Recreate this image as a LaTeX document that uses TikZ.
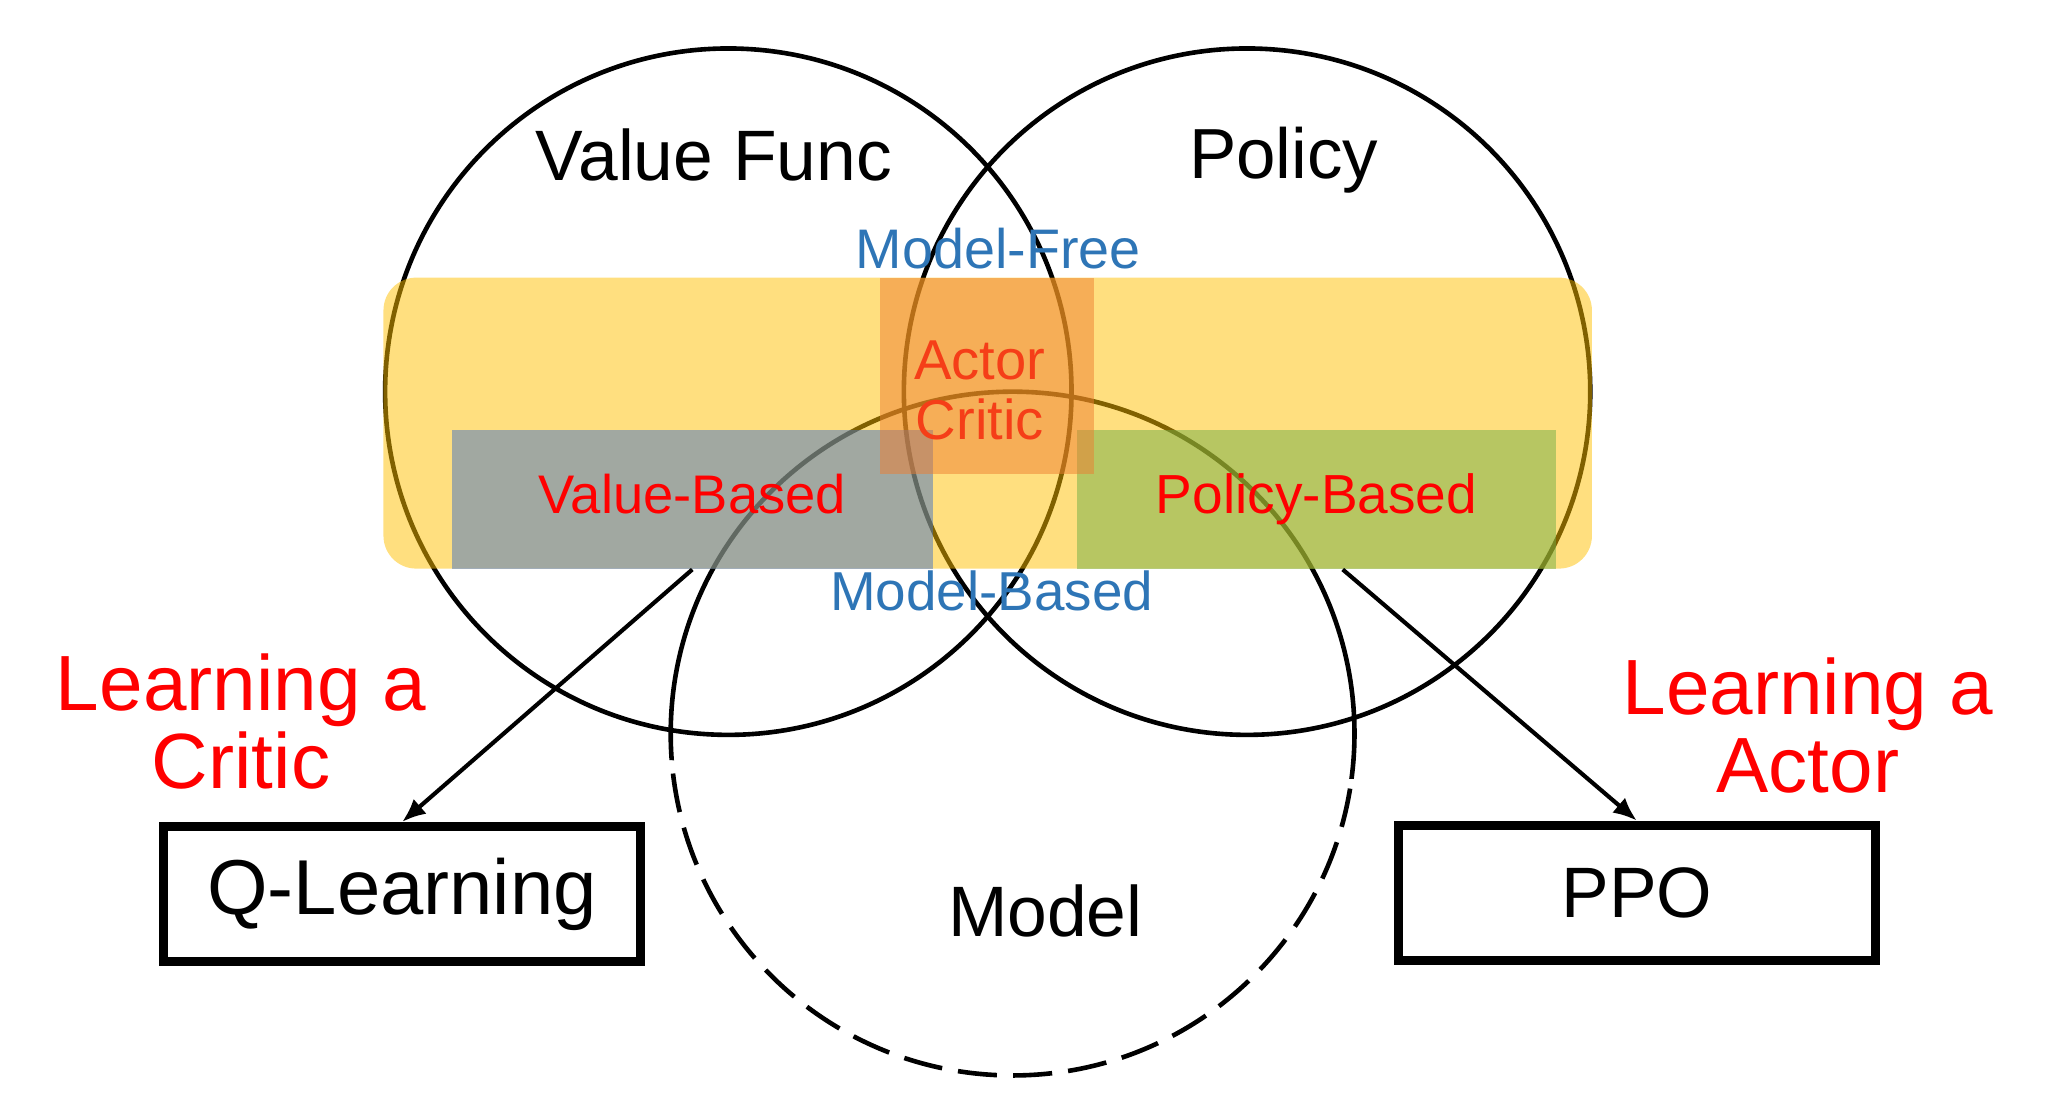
\documentclass[tikz,border=0pt]{standalone}
\usepackage{fontspec}
\setmainfont{Liberation Sans}
\usepackage{xcolor}
\usetikzlibrary{arrows.meta, positioning}
\definecolor{modelfree}{RGB}{255,192,0}
\definecolor{actorcritic}{RGB}{237,125,49}
\definecolor{valuebased}{RGB}{68,114,196}
\definecolor{policybased}{RGB}{112,173,71}
\definecolor{textebleu}{RGB}{46,117,182}
\definecolor{texterouge}{RGB}{255,0,0}

\begin{document}
\begin{tikzpicture}[x=0.01cm, y=-0.01cm,
    venn/.style={draw=black, line width=1pt},
    zone/.style={rectangle, inner sep=0pt, fill opacity=0.5, text opacity=1,
                 text depth=0.22em},
    algo/.style={rectangle, draw=black, line width=2pt, inner sep=0pt,
                 minimum width=3.64cm, minimum height=1.03cm},
    conn/.style={-{Latex[length=1.8mm, width=1.5mm]}, line width=0.9pt}]

    \useasboundingbox (0,0) rectangle (1568,852);

    % Cercles des ensembles
    \draw[venn] (556,299) circle[radius=262];
    \draw[venn] (952,299) circle[radius=262];
    % Cercle du modèle : haut plein, bas en tirets
    \begin{scope}
      \clip (500,290) -- (1045,290) -- (1045,595) -- (500,580) -- cycle;
      \draw[venn] (773,560) circle[radius=261];
    \end{scope}
    \begin{scope}
      \clip (500,580) -- (1045,595) -- (1045,830) -- (500,830) -- cycle;
      \draw[venn, dash pattern=on 8.5pt off 3.5pt] (773,560) circle[radius=261];
    \end{scope}

    % Zone model-free (jaune)
    \node[zone, fill=modelfree, rounded corners=0.25cm,
          minimum width=9.22cm, minimum height=2.22cm] (mfree) at (754,323) {};

    % Value-Based et Policy-Based
    \node[zone, fill=valuebased, text=texterouge,
          font=\fontsize{11.8}{14}\selectfont,
          minimum width=3.67cm, minimum height=1.06cm] (vbased) at (528.5,381)
      {Value-Based};
    \node[zone, fill=policybased, text=texterouge,
          font=\fontsize{11.95}{14}\selectfont,
          minimum width=3.66cm, minimum height=1.06cm] (pbased) at (1005,381)
      {Policy-Based};

    % Actor-Critic (sous le rectangle orange)
    \node[align=center, font=\fontsize{12.2}{13}\selectfont, text=texterouge]
      (actcrit) at (748,298) {Actor\\Critic};
    \node[zone, fill=actorcritic,
          minimum width=1.63cm, minimum height=1.5cm] (acbox) at (753.5,287) {};

    % Titres des cercles
    \node[anchor=base, font=\fontsize{15.5}{18}\selectfont] (vfunc) at (545,138)
      {Value Func};
    \node[anchor=base, font=\fontsize{15.4}{18}\selectfont] (policy) at (980,136)
      {Policy};
    \node[anchor=base, font=\fontsize{15.5}{18}\selectfont] (model) at (798,715)
      {Model};

    % Etiquettes bleues
    \node[anchor=base, text=textebleu, font=\fontsize{12.1}{14}\selectfont]
      (mfreelbl) at (762,205) {Model-Free};
    \node[anchor=base, text=textebleu, font=\fontsize{11.9}{14}\selectfont]
      (mbasedlbl) at (757,466) {Model-Based};

    % Algorithmes
    \node[algo, font=\fontsize{16.9}{20}\selectfont] (qlearn) at (307,682.5)
      {Q-Learning};
    \node[algo, font=\fontsize{15.5}{18}\selectfont] (ppo) at (1249.5,681.5)
      {PPO};

    \draw[conn] (vbased.south) -- (qlearn.north);
    \draw[conn] ([xshift=0.2cm]pbased.south) -- (ppo.north);

    % Annotations rouges
    \node[align=center, text=texterouge, font=\fontsize{17}{17}\selectfont]
      (critic) at (184,551) {Learning a\\Critic};
    \node[align=center, text=texterouge, font=\fontsize{17}{17}\selectfont]
      (actor) at (1380,554) {Learning a\\Actor};

\end{tikzpicture}
\end{document}
